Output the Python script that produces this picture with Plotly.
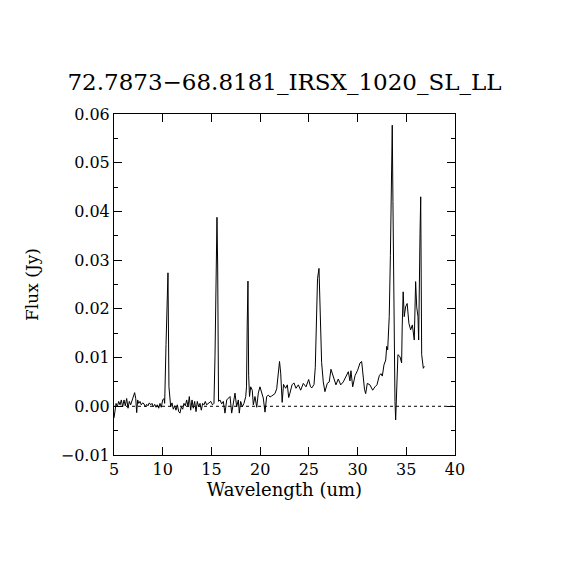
import plotly.graph_objects as go

# spectrum (wavelength in um, flux in Jy)
wave = [
    5.00, 5.07, 5.21, 5.34, 5.48, 5.62, 5.75, 5.89, 6.03, 6.16, 6.30, 6.44, 6.57, 6.71, 6.85,
    6.98, 7.12, 7.23, 7.33, 7.43, 7.54, 7.67, 7.80, 7.95, 8.08, 8.21, 8.36, 8.49, 8.62, 8.77,
    8.90, 9.03, 9.18, 9.31, 9.44, 9.59, 9.72, 9.85, 10.00, 10.13, 10.20, 10.34, 10.44, 10.54,
    10.64, 10.73, 10.82, 10.95, 11.09, 11.23, 11.36, 11.50, 11.64, 11.77, 11.91, 12.05, 12.18,
    12.32, 12.46, 12.60, 12.73, 12.87, 13.01, 13.14, 13.28, 13.42, 13.55, 13.69, 13.83, 13.96,
    14.10, 14.24, 14.37, 14.51, 14.72, 14.93, 15.11, 15.26, 15.37, 15.47, 15.57, 15.64, 15.73,
    15.88, 16.05, 16.22, 16.39, 16.57, 16.73, 16.91, 17.08, 17.24, 17.42, 17.59, 17.76, 17.86,
    18.00, 18.17, 18.34, 18.52, 18.60, 18.67, 18.75, 18.82, 18.91, 19.03, 19.19, 19.30, 19.47,
    19.65, 19.81, 19.98, 20.16, 20.32, 20.50, 20.67, 20.84, 21.01, 21.18, 21.35, 21.52, 21.70,
    21.86, 21.99, 22.11, 22.26, 22.40, 22.62, 22.79, 22.93, 23.06, 23.27, 23.47, 23.68, 23.92,
    24.16, 24.43, 24.71, 24.98, 25.17, 25.32, 25.53, 25.66, 25.78, 25.89, 26.04, 26.19, 26.31,
    26.48, 26.65, 26.89, 27.09, 27.27, 27.50, 27.78, 28.02, 28.27, 28.53, 28.81, 29.05, 29.22,
    29.32, 29.50, 29.74, 30.01, 30.25, 30.42, 30.55, 30.71, 30.83, 31.00, 31.27, 31.55, 31.79,
    31.99, 32.23, 32.40, 32.54, 32.71, 32.89, 32.99, 33.09, 33.25, 33.37, 33.45, 33.56, 33.63,
    33.73, 33.84, 33.91, 33.99, 34.14, 34.35, 34.52, 34.58, 34.68, 34.79, 34.93, 35.09, 35.27,
    35.45, 35.62, 35.82, 35.89, 35.96, 36.07, 36.20, 36.27, 36.34, 36.41, 36.48, 36.51, 36.58,
    36.75, 36.85,
]
flux = [
    -0.0024, -0.0011, 0.0006, -0.0001, 0.0010, 0.0003, 0.0013, -0.0001, 0.0013, 0.0001, 0.0016,
    -0.0004, 0.0010, 0.0003, 0.0013, 0.0020, 0.0028, 0.0016, -0.0013, 0.0013, 0.0006, 0.0010,
    0.0003, 0.0007, 0.0005, -0.0001, 0.0004, 0.0001, 0.0007, 0.0003, 0.0006, -0.0001, 0.0004,
    -0.0002, 0.0003, -0.0004, 0.0006, -0.0002, 0.0013, 0.0016, 0.0006, 0.0127, 0.0240, 0.0274,
    0.0040, 0.0006, -0.0001, 0.0007, -0.0006, 0.0001, -0.0008, 0.0003, -0.0011, -0.0014, -0.0001,
    -0.0006, 0.0006, 0.0001, 0.0013, -0.0001, 0.0020, -0.0008, 0.0013, -0.0004, 0.0010, -0.0011,
    0.0010, -0.0001, 0.0006, -0.0008, 0.0006, 0.0003, 0.0010, 0.0003, 0.0006, 0.0010, 0.0003,
    0.0006, 0.0105, 0.0280, 0.0388, 0.0290, 0.0010, 0.0013, 0.0005, 0.0010, -0.0014, 0.0013,
    0.0016, 0.0020, -0.0014, 0.0010, 0.0027, -0.0001, 0.0013, -0.0014, 0.0010, -0.0001, 0.0006,
    0.0020, 0.0040, 0.0163, 0.0257, 0.0064, 0.0020, 0.0040, 0.0033, 0.0003, 0.0020, -0.0002,
    0.0027, 0.0040, 0.0027, 0.0017, -0.0012, 0.0020, 0.0023, 0.0019, 0.0021, 0.0023, 0.0026,
    0.0036, 0.0067, 0.0092, 0.0068, 0.0008, 0.0045, 0.0037, 0.0044, 0.0018, 0.0027, 0.0044,
    0.0048, 0.0037, 0.0044, 0.0033, 0.0047, 0.0040, 0.0055, 0.0040, 0.0038, 0.0045, 0.0080,
    0.0200, 0.0262, 0.0283, 0.0194, 0.0090, 0.0050, 0.0030, 0.0047, 0.0050, 0.0076, 0.0061,
    0.0044, 0.0056, 0.0044, 0.0050, 0.0061, 0.0071, 0.0052, 0.0073, 0.0040, 0.0063, 0.0074,
    0.0089, 0.0092, 0.0060, 0.0035, 0.0026, 0.0047, 0.0044, 0.0033, 0.0040, 0.0044, 0.0063,
    0.0067, 0.0062, 0.0085, 0.0095, 0.0123, 0.0116, 0.0184, 0.0310, 0.0485, 0.0577, 0.0420,
    0.0150, 0.0010, -0.0028, 0.0010, 0.0106, 0.0102, 0.0089, 0.0163, 0.0235, 0.0184, 0.0204,
    0.0211, 0.0170, 0.0157, 0.0167, 0.0136, 0.0198, 0.0256, 0.0204, 0.0184, 0.0136, 0.0300,
    0.0355, 0.0430, 0.0273, 0.0106, 0.0078, 0.0082,
]

zero_x = [5, 40]
zero_y = [0, 0]

title = "72.7873\u221268.8181_IRSX_1020_SL_LL"
font = "DejaVu Serif"

fig = go.Figure()

# zero level, dotted
fig.add_trace(go.Scatter(x=zero_x, y=zero_y, mode="lines",
                         line=dict(color="black", width=1, dash="dot"),
                         hoverinfo="skip"))
fig.add_trace(go.Scatter(x=wave, y=flux, mode="lines",
                         line=dict(color="black", width=1)))

axis_common = dict(
    showgrid=False, zeroline=False,
    showline=True, linecolor="black", linewidth=1, mirror="ticks",
    ticks="inside", ticklen=8, tickcolor="black", tickwidth=1,
    tickfont=dict(family=font, size=16, color="black"),
)

fig.update_xaxes(
    range=[5, 40], tickmode="linear", tick0=5, dtick=5,
    title=dict(text="Wavelength (um)", font=dict(family=font, size=18, color="black"), standoff=5),
    **axis_common,
)
fig.update_yaxes(
    range=[-0.01, 0.06], tickmode="linear", tick0=-0.01, dtick=0.01, tickformat=".2f",
    minor=dict(ticks="inside", ticklen=4, dtick=0.005, tickcolor="black", showgrid=False),
    title=dict(text="Flux (Jy)", font=dict(family=font, size=17, color="black"), standoff=17),
    **axis_common,
)

# page body adds 8px, so the margins are 8px smaller than the target pixels
fig.update_layout(
    width=570, height=570,
    margin=dict(l=106, r=123, t=106, b=123),
    paper_bgcolor="white", plot_bgcolor="white",
    showlegend=False,
    title=dict(text=title, x=(106 + 341 / 2) / 570, xanchor="center", y=1 - 74 / 570,
               yanchor="middle", font=dict(family=font, size=23, color="black")),
)

fig.write_html("out.html")
